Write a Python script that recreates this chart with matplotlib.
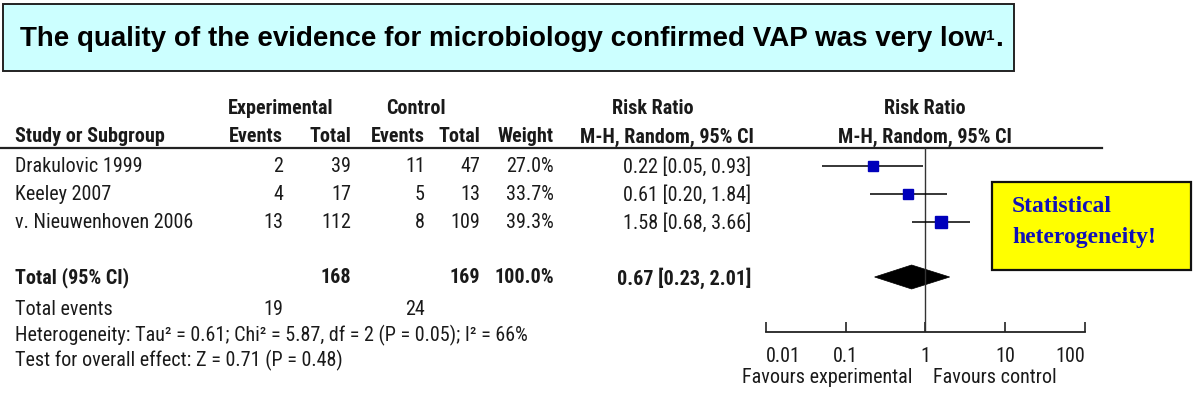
import matplotlib
matplotlib.use('Agg')
import matplotlib.pyplot as plt
from matplotlib import font_manager as fm
from matplotlib.patches import Rectangle, Polygon

# 데이터
studies = ['Drakulovic 1999', 'Keeley 2007', 'v. Nieuwenhoven 2006']
exp_events = [2, 4, 13]
exp_total = [39, 17, 112]
ctrl_events = [11, 5, 8]
ctrl_total = [47, 13, 109]
weights = [27.0, 33.7, 39.3]
rr = [0.22, 0.61, 1.58]
ci_low = [0.05, 0.20, 0.68]
ci_high = [0.93, 1.84, 3.66]

total_exp, total_ctrl = 168, 169
events_exp, events_ctrl = 19, 24
pooled = (0.67, 0.23, 2.01)

axis_ticks = [0.01, 0.1, 1, 10, 100]
axis_labels = ['0.01', '0.1', '1', '10', '100']

title = 'The quality of the evidence for microbiology confirmed VAP was very low'
het_text = 'Heterogeneity: Tau² = 0.61; Chi² = 5.87, df = 2 (P = 0.05); I² = 66%'
effect_text = 'Test for overall effect: Z = 0.71 (P = 0.48)'

# 폰트 선택 (좁은 글꼴이 있으면 사용)
names = {f.name for f in fm.fontManager.ttflist}
TF, FS = 'Liberation Sans', 13
for cand in ['Liberation Sans Narrow', 'Arial Narrow', 'Roboto Condensed', 'Open Sans Condensed']:
    if cand in names:
        TF, FS = cand, 14.5
        break
TC = '#1a1a1a'

W, H = 1200, 406
fig = plt.figure(figsize=(12, 4.06), dpi=100)
ax = fig.add_axes([0, 0, 1, 1])
ax.set_xlim(0, W)
ax.set_ylim(H, 0)
ax.axis('off')

# 제목 상자
ax.add_patch(Rectangle((3, 5), 1011, 67, facecolor='#ccffff', edgecolor='#222222', lw=1.4))
t1 = ax.text(20, 39, title, fontsize=20, fontweight='bold', family='Liberation Sans',
             va='center', ha='left', color='black')
t2 = ax.annotate('1', xy=(1, 0.9), xycoords=t1, fontsize=11, fontweight='bold',
                 family='Liberation Sans', va='top', ha='left')
ax.annotate('.', xy=(1, 0), xycoords=(t2, t1), fontsize=20, fontweight='bold',
            family='Liberation Sans', va='bottom', ha='left')

def txt(x, y, s, ha='left', bold=False, **kw):
    ax.text(x, y, s, ha=ha, va='center', fontsize=FS, family=TF, color=TC,
            fontweight='bold' if bold else 'normal', **kw)

# 헤더
txt(281, 109, 'Experimental', ha='center', bold=True)
txt(416, 109, 'Control', ha='center', bold=True)
txt(653, 109, 'Risk Ratio', ha='center', bold=True)
txt(925, 109, 'Risk Ratio', ha='center', bold=True)
txt(15, 137, 'Study or Subgroup', bold=True)
txt(283, 137, 'Events', ha='right', bold=True)
txt(351, 137, 'Total', ha='right', bold=True)
txt(425, 137, 'Events', ha='right', bold=True)
txt(480, 137, 'Total', ha='right', bold=True)
txt(554, 137, 'Weight', ha='right', bold=True)
txt(667, 137, 'M-H, Random, 95% CI', ha='center', bold=True)
txt(925, 137, 'M-H, Random, 95% CI', ha='center', bold=True)
ax.plot([0, 1102], [149, 149], color='#222222', lw=1.6)

row_y = [167, 195, 223]
total_y = 278

for i, y in enumerate(row_y):
    txt(15, y, studies[i])
    txt(283, y, str(exp_events[i]), ha='right')
    txt(351, y, str(exp_total[i]), ha='right')
    txt(425, y, str(ctrl_events[i]), ha='right')
    txt(480, y, str(ctrl_total[i]), ha='right')
    txt(554, y, f'{weights[i]:.1f}%', ha='right')
    txt(751, y, f'{rr[i]:.2f} [{ci_low[i]:.2f}, {ci_high[i]:.2f}]', ha='right')

txt(15, total_y, 'Total (95% CI)', bold=True)
txt(351, total_y, str(total_exp), ha='right', bold=True)
txt(480, total_y, str(total_ctrl), ha='right', bold=True)
txt(554, total_y, f'{sum(weights):.1f}%', ha='right', bold=True)
txt(751, total_y, f'{pooled[0]:.2f} [{pooled[1]:.2f}, {pooled[2]:.2f}]', ha='right', bold=True)

txt(15, 310, 'Total events')
txt(283, 310, str(events_exp), ha='right')
txt(425, 310, str(events_ctrl), ha='right')
txt(15, 335, het_text)
txt(15, 360, effect_text)

# 포레스트 플롯 축
x0, x1, y_top, y_bot = 766, 1085, 149, 333
fx = fig.add_axes([x0 / W, (H - y_bot) / H, (x1 - x0) / W, (y_bot - y_top) / H])
fx.set_xscale('log')
fx.set_xlim(axis_ticks[0], axis_ticks[-1])
fx.set_ylim(y_bot, y_top)
fx.patch.set_visible(False)
for s in ['top', 'left', 'right']:
    fx.spines[s].set_visible(False)
fx.spines['bottom'].set_color('#222222')
fx.spines['bottom'].set_linewidth(1.3)
fx.set_yticks([])
fx.set_xticks(axis_ticks)
fx.set_xticklabels(axis_labels)
fx.xaxis.set_minor_locator(matplotlib.ticker.FixedLocator([axis_ticks[0], axis_ticks[-1]]))
fx.xaxis.set_minor_formatter(matplotlib.ticker.NullFormatter())
fx.tick_params(axis='x', which='major', direction='in', length=7, width=1.2, color='#222222',
               pad=10, labelsize=FS, labelcolor=TC)
fx.tick_params(axis='x', which='minor', direction='out', length=6, width=1.2, color='#222222')
for lab in fx.get_xticklabels():
    lab.set_family(TF)
labs = fx.get_xticklabels()
labs[0].set_ha('left')
labs[-1].set_ha('right')

fx.axvline(1, color='#333333', lw=1.0)

for i, y in enumerate(row_y):
    fx.plot([ci_low[i], ci_high[i]], [y, y], color='black', lw=1.1, solid_capstyle='butt')
    side = 6.6 * (weights[i] / weights[0]) ** 0.75
    fx.plot([rr[i]], [y], marker='s', ms=side, color='#0000bb', mec='#0000bb', lw=0)

dh = 12
fx.add_patch(Polygon([(pooled[1], total_y), (pooled[0], total_y - dh),
                      (pooled[2], total_y), (pooled[0], total_y + dh)],
                     closed=True, facecolor='black', edgecolor='black', lw=0.5))

txt(912, 378, 'Favours experimental', ha='right')
txt(933, 378, 'Favours control', ha='left')

# 노란 상자
ax.add_patch(Rectangle((992, 183), 199, 88, facecolor='#ffff00', edgecolor='#111111', lw=1.6,
                       zorder=3))
for s, y in [('Statistical', 207), ('heterogeneity!', 238)]:
    ax.text(1012, y, s, ha='left', va='center', fontsize=17, fontweight='bold',
            family='Liberation Serif', color='#1010b8', zorder=4)

fig.savefig('out.png', dpi=100)
